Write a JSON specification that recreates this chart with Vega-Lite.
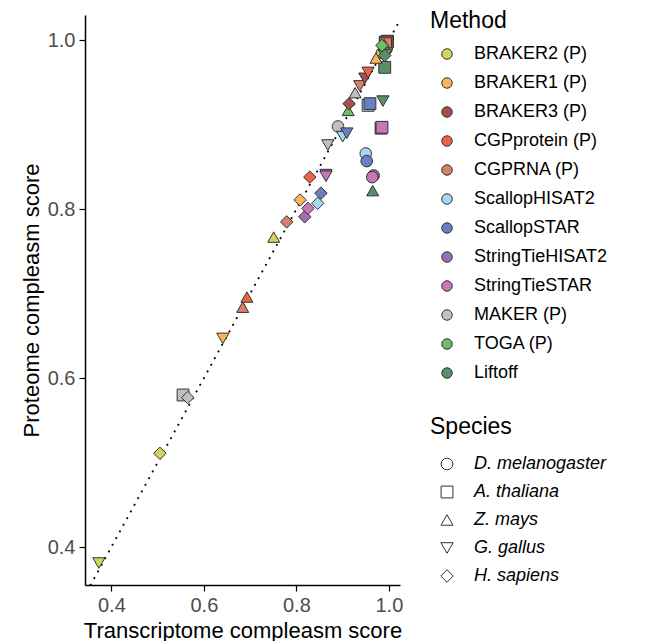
{
  "$schema": "https://vega.github.io/schema/vega-lite/v6.json",
  "width": 315,
  "height": 570,
  "padding": {"left": 20, "top": 10, "right": 5, "bottom": 5},
  "background": "white",
  "config": {
    "view": {"stroke": null},
    "font": "Liberation Sans",
    "axis": {"grid": false, "domainColor": "black", "domainWidth": 1.5, "tickColor": "black", "tickWidth": 1.2, "tickSize": 6, "labelFontSize": 20, "labelColor": "#4d4d4d", "titleFontSize": 22, "titleFontWeight": "normal", "titleColor": "black", "labelPadding": 4},
    "legend": {"titleFontSize": 23, "titleFontWeight": "normal", "labelFontSize": 18, "labelColor": "black", "titleColor": "black", "symbolSize": 110, "rowPadding": 11, "titlePadding": 12, "padding": 0, "symbolOffset": 8, "labelOffset": 18}
  },
  "layer": [
    {
      "data": {"values": [{"v": 0.3}, {"v": 1.1}]},
      "mark": {"type": "line", "color": "black", "strokeWidth": 2, "strokeDash": [0.1, 7.5], "strokeCap": "round", "clip": true},
      "encoding": {
        "x": {"field": "v", "type": "quantitative"},
        "y": {"field": "v", "type": "quantitative"}
      }
    },
    {
      "data": {"values": [
        {"m": "BRAKER2 (P)", "s": "D. melanogaster", "x": 0.985, "y": 0.985},
        {"m": "BRAKER1 (P)", "s": "D. melanogaster", "x": 0.990, "y": 0.990},
        {"m": "BRAKER3 (P)", "s": "D. melanogaster", "x": 0.993, "y": 0.993},
        {"m": "CGPprotein (P)", "s": "D. melanogaster", "x": 0.995, "y": 0.996},
        {"m": "CGPRNA (P)", "s": "D. melanogaster", "x": 0.990, "y": 0.994},
        {"m": "TOGA (P)", "s": "D. melanogaster", "x": 0.992, "y": 0.988},
        {"m": "Liftoff", "s": "D. melanogaster", "x": 0.995, "y": 0.990},
        {"m": "BRAKER2 (P)", "s": "A. thaliana", "x": 0.992, "y": 0.998},
        {"m": "BRAKER1 (P)", "s": "A. thaliana", "x": 0.995, "y": 0.997},
        {"m": "BRAKER3 (P)", "s": "A. thaliana", "x": 0.997, "y": 0.999},
        {"m": "CGPprotein (P)", "s": "A. thaliana", "x": 0.996, "y": 0.998},
        {"m": "CGPRNA (P)", "s": "A. thaliana", "x": 0.993, "y": 0.996},
        {"m": "TOGA (P)", "s": "G. gallus", "x": 0.995, "y": 0.985},
        {"m": "BRAKER3 (P)", "s": "Z. mays", "x": 0.990, "y": 0.995},
        {"m": "MAKER (P)", "s": "A. thaliana", "x": 0.555, "y": 0.580},
        {"m": "MAKER (P)", "s": "H. sapiens", "x": 0.565, "y": 0.577},
        {"m": "BRAKER2 (P)", "s": "G. gallus", "x": 0.373, "y": 0.381},
        {"m": "BRAKER2 (P)", "s": "H. sapiens", "x": 0.505, "y": 0.511},
        {"m": "BRAKER1 (P)", "s": "G. gallus", "x": 0.641, "y": 0.647},
        {"m": "CGPRNA (P)", "s": "Z. mays", "x": 0.684, "y": 0.684},
        {"m": "CGPprotein (P)", "s": "Z. mays", "x": 0.693, "y": 0.696},
        {"m": "BRAKER2 (P)", "s": "Z. mays", "x": 0.751, "y": 0.767},
        {"m": "CGPRNA (P)", "s": "H. sapiens", "x": 0.779, "y": 0.785},
        {"m": "StringTieHISAT2", "s": "H. sapiens", "x": 0.818, "y": 0.791},
        {"m": "StringTieSTAR", "s": "H. sapiens", "x": 0.825, "y": 0.801},
        {"m": "BRAKER1 (P)", "s": "H. sapiens", "x": 0.808, "y": 0.811},
        {"m": "ScallopHISAT2", "s": "H. sapiens", "x": 0.846, "y": 0.807},
        {"m": "ScallopSTAR", "s": "H. sapiens", "x": 0.853, "y": 0.819},
        {"m": "CGPprotein (P)", "s": "H. sapiens", "x": 0.829, "y": 0.838},
        {"m": "StringTieHISAT2", "s": "G. gallus", "x": 0.864, "y": 0.841},
        {"m": "StringTieSTAR", "s": "G. gallus", "x": 0.864, "y": 0.839},
        {"m": "MAKER (P)", "s": "G. gallus", "x": 0.868, "y": 0.876},
        {"m": "MAKER (P)", "s": "D. melanogaster", "x": 0.890, "y": 0.898},
        {"m": "ScallopHISAT2", "s": "G. gallus", "x": 0.900, "y": 0.886},
        {"m": "ScallopSTAR", "s": "G. gallus", "x": 0.909, "y": 0.890},
        {"m": "StringTieHISAT2", "s": "A. thaliana", "x": 0.983, "y": 0.896},
        {"m": "StringTieSTAR", "s": "A. thaliana", "x": 0.985, "y": 0.897},
        {"m": "ScallopHISAT2", "s": "D. melanogaster", "x": 0.950, "y": 0.866},
        {"m": "ScallopSTAR", "s": "D. melanogaster", "x": 0.952, "y": 0.857},
        {"m": "StringTieHISAT2", "s": "D. melanogaster", "x": 0.967, "y": 0.840},
        {"m": "StringTieSTAR", "s": "D. melanogaster", "x": 0.964, "y": 0.838},
        {"m": "Liftoff", "s": "Z. mays", "x": 0.965, "y": 0.822},
        {"m": "ScallopHISAT2", "s": "A. thaliana", "x": 0.955, "y": 0.923},
        {"m": "ScallopSTAR", "s": "A. thaliana", "x": 0.959, "y": 0.925},
        {"m": "Liftoff", "s": "G. gallus", "x": 0.987, "y": 0.928},
        {"m": "TOGA (P)", "s": "Z. mays", "x": 0.912, "y": 0.917},
        {"m": "BRAKER3 (P)", "s": "H. sapiens", "x": 0.914, "y": 0.925},
        {"m": "MAKER (P)", "s": "Z. mays", "x": 0.927, "y": 0.938},
        {"m": "CGPRNA (P)", "s": "G. gallus", "x": 0.937, "y": 0.946},
        {"m": "BRAKER3 (P)", "s": "G. gallus", "x": 0.948, "y": 0.955},
        {"m": "CGPprotein (P)", "s": "G. gallus", "x": 0.955, "y": 0.962},
        {"m": "Liftoff", "s": "A. thaliana", "x": 0.991, "y": 0.968},
        {"m": "BRAKER1 (P)", "s": "Z. mays", "x": 0.972, "y": 0.979},
        {"m": "Liftoff", "s": "H. sapiens", "x": 0.991, "y": 0.982},
        {"m": "TOGA (P)", "s": "H. sapiens", "x": 0.985, "y": 0.994}
      ]},
      "mark": {"type": "point", "filled": true, "opacity": 1, "stroke": "#333333", "strokeWidth": 1},
      "encoding": {
        "x": {"field": "x", "type": "quantitative", "title": "Transcriptome compleasm score",
              "scale": {"domain": [0.343, 1.024], "nice": false, "zero": false},
              "axis": {"values": [0.4, 0.6, 0.8, 1.0], "format": ".1f", "titlePadding": 5}},
        "y": {"field": "y", "type": "quantitative", "title": "Proteome compleasm score",
              "scale": {"domain": [0.355, 1.03], "nice": false, "zero": false},
              "axis": {"values": [0.4, 0.6, 0.8, 1.0], "format": ".1f", "titlePadding": 4}},
        "color": {"field": "m", "type": "nominal", "title": "Method",
          "scale": {
            "domain": ["BRAKER2 (P)", "BRAKER1 (P)", "BRAKER3 (P)", "CGPprotein (P)", "CGPRNA (P)", "ScallopHISAT2", "ScallopSTAR", "StringTieHISAT2", "StringTieSTAR", "MAKER (P)", "TOGA (P)", "Liftoff"],
            "range": ["#d4d35b", "#f9b556", "#a0524a", "#ee6343", "#d9806a", "#a6d6f0", "#6a7fc1", "#9a6fb6", "#c976b8", "#c0c0c0", "#6cbf63", "#5a8f6b"]
          },
          "legend": {"orient": "none", "legendX": 345, "legendY": -5, "symbolType": "circle", "symbolStrokeColor": "#333333", "symbolStrokeWidth": 1, "symbolOpacity": 1, "symbolSize": 110}
        },
        "shape": {"field": "s", "type": "nominal", "title": "Species",
          "scale": {
            "domain": ["D. melanogaster", "A. thaliana", "Z. mays", "G. gallus", "H. sapiens"],
            "range": ["circle", "square", "triangle-up", "triangle-down", "diamond"]
          },
          "legend": {"orient": "none", "legendX": 345, "legendY": 401, "rowPadding": 10, "titlePadding": 16, "symbolFillColor": "transparent", "symbolStrokeColor": "#333333", "symbolStrokeWidth": 1, "labelFontStyle": "italic", "symbolSize": 130,
            "encode": {"symbols": {"update": {"size": {"value": 130}, "fill": {"value": "transparent"}, "stroke": {"value": "#333333"}}}}}
        },
        "size": {"field": "s", "type": "nominal", "title": "Species",
          "scale": {
            "domain": ["D. melanogaster", "A. thaliana", "Z. mays", "G. gallus", "H. sapiens"],
            "range": [135, 155, 240, 240, 185]
          },
          "legend": {"orient": "none", "legendX": 345, "legendY": 401, "rowPadding": 10, "titlePadding": 16, "symbolFillColor": "transparent", "symbolStrokeColor": "#333333", "symbolStrokeWidth": 1, "labelFontStyle": "italic", "symbolSize": 130,
            "encode": {"symbols": {"update": {"size": {"value": 130}, "fill": {"value": "transparent"}, "stroke": {"value": "#333333"}}}}}
        }
      }
    }
  ]
}
